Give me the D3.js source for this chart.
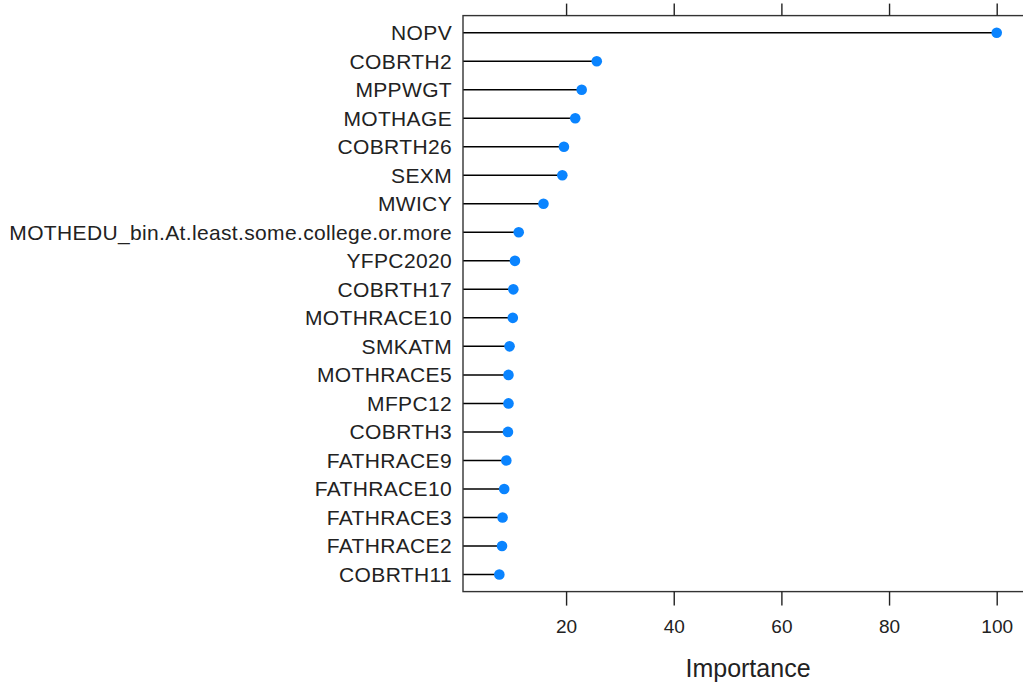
<!DOCTYPE html>
<html>
<head>
<meta charset="utf-8">
<script src="https://cdn.jsdelivr.net/npm/d3@7"></script>
<style>
body { margin: 0; background: #fff; }
svg { display: block; font-family: "Liberation Sans", Arial, sans-serif; }
</style>
</head>
<body>
<svg id="chart" width="1023" height="689"></svg>
<script>
// variable names, top to bottom
var features = ["NOPV", "COBRTH2", "MPPWGT", "MOTHAGE", "COBRTH26", "SEXM", "MWICY",
	"MOTHEDU_bin.At.least.some.college.or.more", "YFPC2020", "COBRTH17", "MOTHRACE10",
	"SMKATM", "MOTHRACE5", "MFPC12", "COBRTH3", "FATHRACE9", "FATHRACE10",
	"FATHRACE3", "FATHRACE2", "COBRTH11"];
var importance = [100, 25.7, 22.9, 21.7, 19.6, 19.3, 15.8, 11.2, 10.5, 10.2, 10.1,
	9.5, 9.3, 9.3, 9.2, 8.9, 8.5, 8.2, 8.1, 7.6];
var xTicks = [20, 40, 60, 80, 100];

var svg = d3.select("#chart");

var padL = 463, padR = 1029, padT = 15.6, padB = 591.6;

var x = d3.scaleLinear()
	.domain([0.85, 106])
	.range([padL, padR]);

// lattice style: categories at 1..n with 0.6 padding
var y = d3.scaleLinear()
	.domain([0.4, features.length + 0.6])
	.range([padT, padB]);

var data = features.map(function(f, i) {
	return {name: f, value: importance[i], pos: i + 1};
});

// lollipop stems
svg.append("g").selectAll("line")
	.data(data)
	.enter()
	.append("line")
	.attr("x1", padL)
	.attr("x2", function(d) { return x(d.value); })
	.attr("y1", function(d) { return y(d.pos); })
	.attr("y2", function(d) { return y(d.pos); })
	.attr("stroke", "#000")
	.attr("stroke-width", 1.5);

// dots
svg.append("g").selectAll("circle")
	.data(data)
	.enter()
	.append("circle")
	.attr("cx", function(d) { return x(d.value); })
	.attr("cy", function(d) { return y(d.pos); })
	.attr("r", 5.3)
	.attr("fill", "#0a84ff");

// panel box
svg.append("rect")
	.attr("x", padL)
	.attr("y", padT)
	.attr("width", padR - padL)
	.attr("height", padB - padT)
	.attr("fill", "none")
	.attr("stroke", "#333")
	.attr("stroke-width", 1.4);

// bottom axis
var xAxisB = d3.axisBottom(x)
	.tickValues(xTicks)
	.tickSize(14)
	.tickPadding(14)
	.tickSizeOuter(0);
var gb = svg.append("g")
	.attr("transform", "translate(0," + padB + ")")
	.call(xAxisB);
gb.select(".domain").remove();
gb.selectAll("line").attr("stroke", "#222").attr("stroke-width", 1.4);
gb.selectAll("text")
	.attr("fill", "#222")
	.style("font-size", "19px")
	.style("font-family", "Liberation Sans, Arial, sans-serif");

// top axis, ticks only
var xAxisT = d3.axisTop(x)
	.tickValues(xTicks)
	.tickSize(12)
	.tickFormat("")
	.tickSizeOuter(0);
var gt = svg.append("g")
	.attr("transform", "translate(0," + padT + ")")
	.call(xAxisT);
gt.select(".domain").remove();
gt.selectAll("line").attr("stroke", "#222").attr("stroke-width", 1.4);

// category labels
svg.append("g").selectAll("text")
	.data(data)
	.enter()
	.append("text")
	.attr("x", padL - 11)
	.attr("y", function(d) { return y(d.pos); })
	.attr("dy", "0.35em")
	.attr("text-anchor", "end")
	.attr("fill", "#222")
	.style("font-size", "21px")
	.style("letter-spacing", "0.35px")
	.text(function(d) { return d.name; });

// axis title
svg.append("text")
	.attr("x", 748)
	.attr("y", 677)
	.attr("text-anchor", "middle")
	.attr("fill", "#222")
	.style("font-size", "25px")
	.text("Importance");
</script>
</body>
</html>
